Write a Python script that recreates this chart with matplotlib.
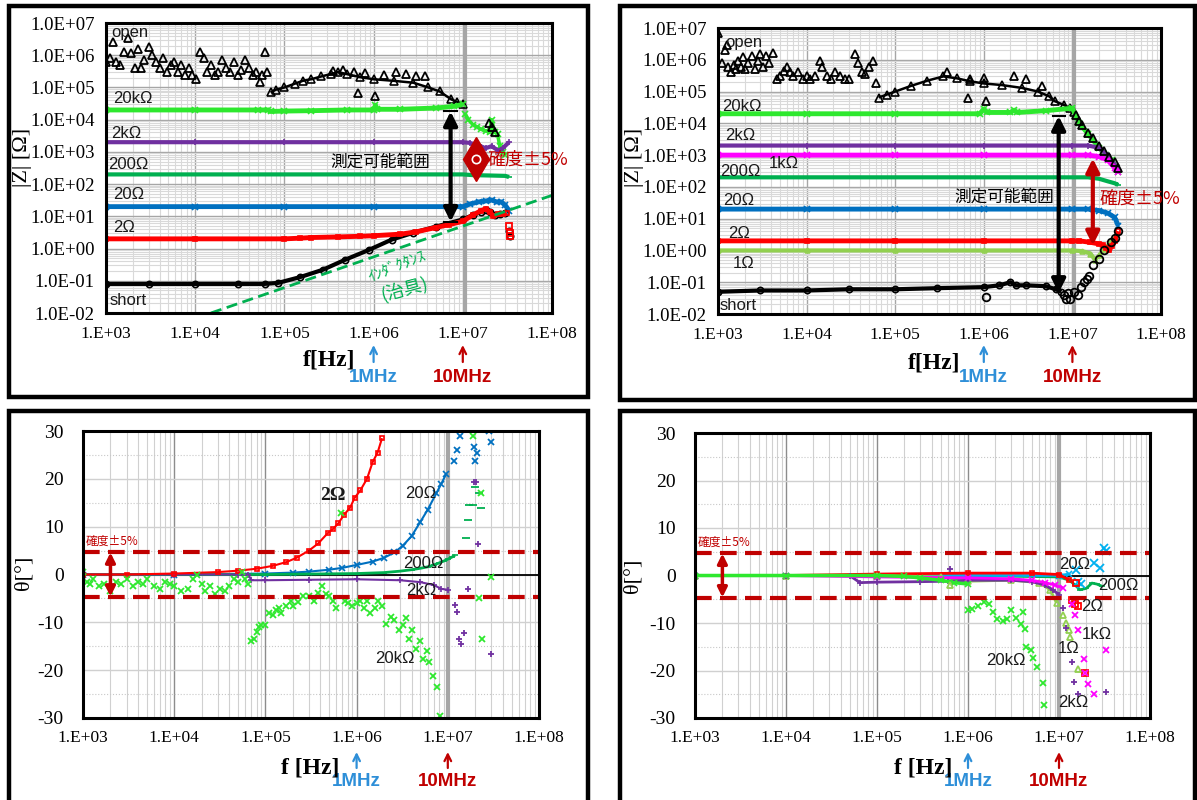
import numpy as np
import matplotlib.pyplot as plt
from matplotlib import transforms
from matplotlib.patches import Rectangle
from matplotlib.ticker import LogLocator, NullFormatter, MultipleLocator

plt.rcParams['font.family'] = ['Liberation Sans', 'DejaVu Sans']
plt.rcParams['axes.unicode_minus'] = False

# ---------------- data: |Z| fixture A (top left) ----------------
tl_open_pts_f = [1.0e3, 1.1e3, 1.2e3, 1.3e3, 1.45e3, 1.6e3, 1.75e3, 1.9e3, 2.1e3, 2.3e3, 2.5e3, 2.7e3,
                 3.0e3, 3.3e3, 3.6e3, 4.0e3, 4.4e3, 4.8e3, 5.3e3, 5.8e3, 6.4e3, 7.0e3, 7.7e3, 8.5e3,
                 9.3e3, 1.03e4, 1.13e4, 1.25e4, 1.37e4, 1.5e4, 1.65e4, 1.8e4, 2.0e4, 2.2e4, 2.45e4,
                 2.7e4, 3.0e4, 3.3e4, 3.6e4, 4.0e4, 4.4e4, 4.8e4, 5.3e4, 5.6e4, 6.0e4, 6.4e4,
                 3.5e5, 4.5e5, 6.0e5, 8.0e5, 1.3e6, 1.8e6, 2.3e6, 3.0e6, 3.8e6, 6.6e5, 1.05e6,
                 1.95e7, 2.1e7, 2.3e7]
tl_open_pts_z = [6e5, 8e5, 2.5e6, 6e5, 5e5, 1.3e6, 3.5e6, 1.2e6, 4e5, 1.6e6, 4e5, 7e5,
                 1.8e6, 1e6, 6e5, 4e5, 8e5, 3e5, 5e5, 6e5, 3e5, 5e5, 2.5e5, 4e5,
                 2.5e5, 1.8e5, 1.3e6, 8e5, 3e5, 5e5, 2.5e5, 3e5, 7e5, 4e5, 3e5,
                 6e5, 2.5e5, 3.5e5, 7e5, 4e5, 2.5e5, 3e5, 1.5e5, 2.5e5, 1.3e6, 3e5,
                 3.2e5, 3.5e5, 3e5, 2.8e5, 2.5e5, 3e5, 2.6e5, 2.2e5, 2.3e5, 6.6e4, 5.4e4,
                 8e3, 6e3, 4e3]
tl_open_f = [7e4, 8e4, 1e5, 1.3e5, 1.6e5, 2e5, 2.6e5, 3.3e5, 4e5, 5e5, 7e5, 1e6, 1.7e6, 2.8e6,
             4.1e6, 5.5e6, 7.4e6, 8.6e6, 1e7]
tl_open_z = [7e4, 8.5e4, 1e5, 1.3e5, 1.6e5, 1.8e5, 2.2e5, 2.6e5, 3e5, 2.6e5, 2.1e5, 1.8e5, 1.6e5, 1.4e5,
             1e5, 7.5e4, 4.3e4, 3.5e4, 3e4]
tl_20k_f = [1e3, 1e4, 5e4, 6.5e4, 7e4, 1e5, 2e5, 5e5, 1e6, 1.05e6, 1.1e6, 2e6, 5e6, 8e6, 1e7]
tl_20k_z = [2e4, 2e4, 2e4, 2e4, 1.8e4, 1.85e4, 1.9e4, 2e4, 2e4, 2.8e4, 2.1e4, 2.1e4, 2.3e4, 2.6e4, 3e4]
tl_20k_tail_f = [1.07e7, 1.15e7, 1.3e7, 1.45e7, 1.6e7, 1.8e7, 2e7, 2.1e7, 2.3e7, 2.45e7, 2.6e7, 2.8e7, 3e7]
tl_20k_tail_z = [1.5e4, 1e4, 7e3, 6e3, 5e3, 4.5e3, 4e3, 1e4, 4e3, 3.5e3, 1.5e3, 1e3, 8e2]
tl_2k_f = [1e3, 1e4, 1e5, 1e6, 1e7, 1.2e7, 1.5e7, 1.8e7, 2.1e7, 2.5e7, 2.8e7, 3.3e7]
tl_2k_z = [2e3, 2e3, 2e3, 2e3, 2e3, 1.9e3, 1.6e3, 1.3e3, 1.5e3, 1.1e3, 1.3e3, 2e3]
tl_200_f = [1e3, 1e4, 1e5, 1e6, 1e7, 1.3e7, 2e7, 3e7, 3.3e7]
tl_200_z = [200, 200, 200, 200, 200, 190, 185, 180, 165]
tl_20_f = [1e3, 1e4, 1e5, 1e6, 1e7, 1.2e7, 1.5e7, 1.8e7, 2.1e7, 2.4e7, 2.7e7, 3e7, 3.3e7]
tl_20_z = [20, 20, 20, 20, 20, 24, 28, 30, 32, 28, 28, 22, 15]
tl_2_f = [1e3, 1e4, 1e5, 1.5e5, 2e5, 4e5, 7e5, 1e6, 2e6, 3e6, 5e6, 7e6, 1e7, 1.3e7, 1.6e7, 1.8e7,
          2e7, 2.2e7, 2.5e7, 2.8e7, 3.1e7]
tl_2_z = [2, 2, 2, 2.1, 2.2, 2.3, 2.4, 2.5, 2.8, 3.3, 4.5, 5.5, 7, 11, 15, 17, 14, 10, 12, 12, 13]
tl_2_tail_f = [3.3e7, 3.35e7, 3.4e7]
tl_2_tail_z = [5, 3, 2.5]
tl_short_f = [1e3, 3e3, 1e4, 3e4, 6e4, 8.5e4, 1.5e5, 2.7e5, 4.8e5, 8.8e5, 1.6e6, 2.8e6, 5e6, 1e7,
              1.3e7, 1.6e7, 1.8e7, 2e7, 2.3e7, 2.6e7, 3e7]
tl_short_z = [0.08, 0.08, 0.08, 0.08, 0.08, 0.086, 0.13, 0.22, 0.45, 0.9, 1.9, 3.1, 4.8, 8,
              11, 14, 16, 14, 11, 12, 13]
tl_short_tail_f = [3.3e7, 3.4e7]
tl_short_tail_z = [3.5, 2.5]
tl_ind_f = [1.5e4, 1.05e8]
tl_ind_z = [1e-2, 47]

# ---------------- data: |Z| fixture B (top right) ----------------
tr_open_pts_f = [1.0e3, 1.1e3, 1.2e3, 1.25e3, 1.3e3, 1.4e3, 1.5e3, 1.6e3, 1.7e3, 1.8e3, 1.9e3, 2.0e3,
                 2.2e3, 2.4e3, 2.6e3, 2.8e3, 3.0e3, 3.2e3, 3.5e3, 3.8e3, 4.2e3, 4.6e3, 5.0e3, 5.5e3,
                 6.0e3, 6.5e3, 7.0e3, 8.0e3, 9.0e3, 1.0e4, 1.1e4, 1.25e4, 1.4e4, 1.5e4, 1.7e4, 1.9e4,
                 2.1e4, 2.4e4, 2.7e4, 3.0e4, 3.5e4, 3.8e4, 4.2e4, 4.6e4, 5.0e4, 5.6e4, 6.0e4,
                 3.8e5, 7.0e5, 1.0e6, 2.2e6, 3.0e6, 4.5e6, 6.6e5, 1.05e6,
                 1.1e7, 1.2e7, 1.3e7, 1.5e7, 1.7e7, 2.0e7, 2.3e7, 2.6e7, 3.0e7, 3.3e7]
tr_open_pts_z = [7e6, 8e5, 2e6, 3e6, 6e5, 4e5, 7e5, 5e5, 9e5, 6e5, 1.2e6, 5e5,
                 8e5, 1.3e6, 5e5, 9e5, 1.5e6, 6e5, 1.3e6, 8e5, 1.6e6, 2.5e5, 3e5, 4.5e5,
                 6e5, 4e5, 3e5, 4e5, 2.5e5, 3e5, 2.5e5, 3e5, 9e5, 6e5, 3e5, 2.5e5,
                 4e5, 3e5, 2.5e5, 2.5e5, 1.5e6, 8e5, 4e5, 3.5e5, 6e5, 9e5, 1.9e5,
                 4e5, 2.5e5, 2.7e5, 3e5, 2.5e5, 1.5e5, 6.3e4, 5e4,
                 1.8e4, 1.2e4, 9e3, 5e3, 3.5e3, 2e3, 1.3e3, 9e2, 6e2, 4e2]
tr_open_f = [6.5e4, 8e4, 1e5, 1.5e5, 2.3e5, 3.5e5, 5e5, 7e5, 1e6, 1.6e6, 2.7e6, 4.1e6, 5.5e6, 6.3e6,
             8e6, 9.4e6, 1.05e7]
tr_open_z = [6.5e4, 8e4, 1e5, 1.5e5, 2.2e5, 3e5, 2.6e5, 2.1e5, 1.8e5, 1.6e5, 1.3e5, 1e5, 7e4, 5e4,
             3.8e4, 3e4, 2.2e4]
tr_20k_f = [1e3, 1e4, 1e5, 9e5, 1e6, 1.1e6, 2e6, 2.2e6, 2.4e6, 5e6, 1e7, 1.2e7, 1.5e7, 2e7, 2.4e7,
            2.8e7, 3.3e7]
tr_20k_z = [2e4, 2e4, 2e4, 2e4, 2.8e4, 2.2e4, 2.2e4, 2.6e4, 2.2e4, 2.5e4, 3e4, 1e4, 4.7e3, 1.7e3, 1e3,
            6.8e2, 3e2]
tr_2k_f = [1e3, 1e4, 1e5, 1e6, 1e7, 1.5e7, 2e7, 2.5e7, 3e7, 3.3e7]
tr_2k_z = [2e3, 2e3, 2e3, 2e3, 2e3, 2e3, 1.7e3, 1e3, 5e2, 3.5e2]
tr_1k_f = [1e3, 1e4, 1e5, 1e6, 1e7, 1.5e7, 2e7, 2.5e7, 3e7, 3.3e7]
tr_1k_z = [1e3, 1e3, 1e3, 1e3, 1e3, 1e3, 9e2, 7e2, 4e2, 3e2]
tr_200_f = [1e3, 1e4, 1e5, 1e6, 1e7, 1.5e7, 2e7, 2.5e7, 3e7, 3.3e7]
tr_200_z = [200, 200, 200, 200, 200, 200, 180, 150, 130, 115]
tr_20_f = [1e3, 1e4, 1e5, 1e6, 1e7, 1.5e7, 2e7, 2.5e7, 3e7, 3.3e7]
tr_20_z = [20, 20, 20, 20, 20, 20, 18, 15, 11, 6]
tr_2_f = [1e3, 1e4, 1e5, 1e6, 1e7, 1.2e7, 1.6e7, 2e7, 2.2e7, 2.4e7, 2.6e7, 2.8e7, 3e7, 3.3e7]
tr_2_z = [2, 2, 2, 2, 2, 2, 1.8, 1.6, 1.5, 1.2, 1.0, 1.4, 2, 4]
tr_1_f = [1e3, 1e4, 1e5, 1e6, 1e7, 1.3e7, 1.6e7, 1.8e7, 2e7, 2.3e7, 2.6e7, 3e7]
tr_1_z = [1, 1, 1, 1, 1, 0.95, 0.8, 0.5, 0.7, 1.1, 1.6, 2.5]
tr_short_f = [1e3, 3e3, 1e4, 3e4, 1e5, 3e5, 1e6, 1.5e6, 2e6, 2.3e6, 3e6, 5e6, 6.5e6, 7.5e6]
tr_short_z = [0.05, 0.055, 0.055, 0.06, 0.06, 0.065, 0.07, 0.08, 0.1, 0.08, 0.08, 0.075, 0.06, 0.05]
tr_short_tail_f = [8e6, 8.5e6, 9e6, 9.5e6, 1.05e7, 1.15e7, 1.25e7, 1.35e7, 1.45e7, 1.55e7, 1.7e7,
                   2e7, 2.3e7, 2.7e7, 3e7, 3.3e7, 1.05e6]
tr_short_tail_z = [0.04, 0.03, 0.045, 0.03, 0.05, 0.04, 0.07, 0.1, 0.13, 0.16, 0.35,
                   0.55, 1.0, 1.8, 2.5, 4.0, 0.035]

# ---------------- data: phase fixture A (bottom left) ----------------
bl_2_f = [1e3, 3e3, 1e4, 3e4, 5e4, 8e4, 1.2e5, 1.7e5, 2.2e5, 3e5, 3.8e5, 4.8e5, 5.5e5, 6.3e5, 7.3e5,
          8.5e5, 9.5e5, 1.1e6, 1.3e6, 1.5e6, 1.7e6, 1.9e6]
bl_2_deg = [0, 0, 0.2, 0.5, 0.8, 1.2, 1.8, 2.6, 3.5, 5, 6.5, 8.6, 9.5, 10.7, 12.5, 14, 16, 17.6, 20,
            23.5, 25.5, 28.5]
bl_20_f = [1e3, 1e4, 1e5, 2e5, 3e5, 5e5, 7e5, 1e6, 1.5e6, 2e6, 2.6e6, 3.2e6, 4e6, 5e6, 6e6, 7.5e6,
           8.5e6, 9.6e6]
bl_20_deg = [0, 0, 0.2, 0.4, 0.6, 1, 1.4, 2, 2.7, 3.5, 4.6, 6, 8, 11, 13.5, 17, 19, 21]
bl_20_tail_f = [1.17e7, 1.27e7, 1.37e7, 1.95e7, 2.0e7, 2.1e7, 2.8e7, 2.95e7]
bl_20_tail_deg = [23.7, 26, 29, 26.7, 23.7, 25.5, 29.9, 27.8]
bl_200_f = [1e3, 1e4, 1e5, 1e6, 2e6, 3e6, 4e6, 5e6, 6e6, 7e6, 8e6, 9e6, 1e7, 1.1e7, 1.2e7]
bl_200_deg = [0, 0, 0, 0.2, 0.4, 0.7, 1, 1.3, 1.6, 2, 2.4, 2.8, 3.2, 3.6, 4]
bl_200_tail_f = [1.6e7, 1.65e7, 1.7e7, 1.9e7, 2.0e7, 2.2e7, 2.3e7]
bl_200_tail_deg = [7.6, 11.3, 14.5, 14.6, 18.3, 17, 14]
bl_2k_f = [1e3, 1e4, 5e4, 6.5e4, 7e4, 1e5, 3e5, 1e6, 3e6, 5e6, 7e6, 8.5e6, 1e7]
bl_2k_deg = [0, 0, 0, 0, -1.2, -1.2, -1.1, -1.0, -1.2, -1.6, -2.2, -3, -3.2]
bl_2k_tail_f = [1.2e7, 1.27e7, 1.33e7, 1.4e7, 1.5e7, 1.65e7, 1.95e7, 2.05e7, 2.15e7, 3.0e7]
bl_2k_tail_deg = [-6.4, -7.8, -13.4, -14.5, -12.3, -3, 19.4, 19.4, 6.3, -16.7]
bl_20k_f = [1.0e3, 1.1e3, 1.2e3, 1.3e3, 1.5e3, 1.7e3, 2.0e3, 2.3e3, 2.6e3, 3.0e3, 3.5e3, 4.0e3,
            4.5e3, 5.0e3, 6.0e3, 7.0e3, 8.0e3, 9.0e3, 1.0e4, 1.2e4, 1.4e4, 1.6e4, 1.8e4, 2.0e4,
            2.2e4, 2.5e4, 2.8e4, 3.2e4, 3.6e4, 4.0e4, 4.5e4, 5.0e4, 5.5e4, 6.0e4, 6.5e4, 7.0e4,
            7.5e4, 8.0e4, 8.5e4, 9.0e4, 1.0e5, 1.1e5, 1.2e5, 1.3e5, 1.4e5, 1.5e5, 1.7e5, 1.9e5,
            2.0e5, 2.3e5, 2.6e5, 3.0e5, 3.4e5, 3.8e5, 4.2e5, 4.6e5, 5.0e5, 5.5e5, 6.0e5, 6.7e5,
            7.5e5, 8.0e5, 9.0e5, 1.0e6, 1.1e6, 1.2e6, 1.3e6, 1.4e6, 1.6e6, 1.7e6, 1.9e6, 2.1e6,
            2.4e6, 2.6e6, 2.9e6, 3.2e6, 3.5e6, 3.8e6, 4.1e6, 4.5e6, 5.0e6, 5.3e6, 5.9e6, 6.3e6,
            6.9e6, 7.6e6, 8.2e6, 1.9e7, 2.2e7, 2.3e7, 2.4e7, 3.0e7]
bl_20k_deg = [0.5, -1.5, -2, -1, -2.5, -2, -3.5, -1.5, -2, -1, -2.5, -1.5,
              -2, -1, -2.5, -3, -1.5, -2, -2.5, -3.5, -3, -1, 0, -2,
              -3.5, -2.5, -4, -3, -3.5, -2.5, -1, -1.5, 0.5, -1, -2, -14,
              -13.5, -12, -11, -10.5, -10.5, -8, -8.5, -7.5, -7, -8, -6.5, -5.5,
              -6.5, -5.8, -4.5, -4.4, -5.5, -3.8, -2.3, -4, -4.5, -5.5, -7.1, 12.9,
              -5.5, -6, -6.6, -6, -5.5, -7, -5.5, -8, -7, -5.5, -6.5, -10.3,
              -8.9, -9.5, -11.7, -10.5, -9, -13.4, -11.5, -15.5, -14, -17.6, -16, -18.3,
              -21.2, -23.6, -29.5, 29, -5, 17, -13.5, -0.5]

# ---------------- data: phase fixture B (bottom right) ----------------
br_2k_f = [1e3, 1e4, 5e4, 6.5e4, 1e5, 3e5, 6e5, 1e6, 3e6, 5e6, 7e6, 8.5e6, 1e7]
br_2k_deg = [0, 0, 0, -1.5, -1.4, -1.3, -1.2, -1.0, -1.0, -1.3, -2, -3, -4]
br_2k_tail_f = [6.3e5, 1.1e7, 1.2e7, 1.4e7, 1.45e7, 1.6e7, 3.3e7]
br_2k_tail_deg = [1.4, -6.8, -11, -18.2, -22.4, -24.9, -24.5]
br_1k_f = [1e3, 1e4, 1e5, 1e6, 3e6, 5e6, 7e6, 9e6, 1.1e7]
br_1k_deg = [0, 0, -0.3, -0.5, -0.7, -1, -1.5, -2, -2.6]
br_1k_tail_f = [1.38e7, 1.5e7, 1.6e7, 1.87e7, 1.95e7, 2.1e7, 2.4e7, 3.3e7]
br_1k_tail_deg = [-5.9, -8.4, -11.5, -17.5, -20.6, -22.8, -25, -15.6]
br_1_f = [1e3, 1e4, 1e5, 5e5, 1e6, 3e6, 6e6, 8e6, 9.4e6]
br_1_deg = [0, 0, 0, -0.3, -1.2, -1, -1.5, -3, -5.8]
br_1_tail_f = [6.3e5, 1.1e7, 1.2e7, 1.3e7, 1.32e7, 1.6e7]
br_1_tail_deg = [-2, -8.3, -10, -11.4, -13, -19.7]
br_2_f = [1e3, 1e4, 1e5, 1e6, 5e6, 1e7, 1.3e7]
br_2_deg = [0, 0, 0.3, 0.5, 0.5, 0.2, -1]
br_2_tail_f = [1.38e7, 1.5e7, 1.55e7, 1.6e7, 1.95e7]
br_2_tail_deg = [-5.2, -5.9, -1.6, -6.5, -20.5]
br_20_f = [1e3, 1e4, 1e5, 1e6, 1e7, 1.3e7]
br_20_deg = [0, 0, 0, 0, 0, 0.3]
br_20_tail_f = [1.55e7, 1.6e7, 1.75e7, 2.4e7, 2.8e7, 3.1e7, 3.3e7]
br_20_tail_deg = [1.2, -1.4, -1.8, 2.6, 1.6, 5.8, 5.2]
br_200_f = [1e3, 1e4, 1e5, 1e6, 1e7, 1.3e7, 1.5e7, 1.7e7, 2e7, 2.3e7, 2.6e7, 3e7]
br_200_deg = [0, 0, 0, 0, -0.3, -1, -2, -3, -2.7, -1.6, -1.8, -2.3]
br_20k_f = [1e3, 1e4, 1e5, 2e5, 3e5, 5e5, 7e5, 1e6]
br_20k_deg = [0, 0, 0, -0.2, -0.5, -1, -1.5, -1.8]
br_20k_tail_f = [1e6, 1.1e6, 1.3e6, 1.5e6, 1.7e6, 1.9e6, 2.1e6, 2.4e6, 2.7e6, 3e6, 3.4e6, 3.8e6,
                 4e6, 4.2e6, 4.3e6, 4.9e6, 5.2e6, 5.7e6, 6.6e6, 6.9e6]
br_20k_tail_deg = [-7.3, -7, -6.5, -5.5, -6, -7.7, -9.1, -9.5, -9.2, -7.2, -9, -10.2,
                   -7.6, -11.2, -15, -15.6, -17.4, -19.2, -22.6, -27.2]

x_ticks = [1e3, 1e4, 1e5, 1e6, 1e7, 1e8]
x_labels = ['1.E+03', '1.E+04', '1.E+05', '1.E+06', '1.E+07', '1.E+08']
z_ticks = [1e-2, 1e-1, 1e0, 1e1, 1e2, 1e3, 1e4, 1e5, 1e6, 1e7]
z_labels = ['1.0E-02', '1.0E-01', '1.0E+00', '1.0E+01', '1.0E+02', '1.0E+03',
            '1.0E+04', '1.0E+05', '1.0E+06', '1.0E+07']
deg_ticks = [-30, -20, -10, 0, 10, 20, 30]

C_OPEN = 'black'
C_20K = '#2EE82E'
C_2K = '#7030A0'
C_200 = '#00B050'
C_20 = '#0070C0'
C_2 = '#FF0000'
C_1K = '#FF00FF'
C_1 = '#92D050'
C_20B = '#00B0F0'
C_LIM = '#C00000'
C_BLUE = '#2E8FD8'

SERIF = 'Liberation Serif'
JP = ['Noto Sans CJK JP', 'DejaVu Sans']

W, H = 1197, 800
fig = plt.figure(figsize=(W / 100, H / 100), dpi=100)


def px_axes(l, t, r, b):
    return fig.add_axes([l / W, 1 - b / H, (r - l) / W, (b - t) / H])


def frame(x0, y0, x1, y1):
    fig.add_artist(Rectangle((x0 / W, 1 - y1 / H), (x1 - x0) / W, (y1 - y0) / H,
                             transform=fig.transFigure, fill=False, ec='black', lw=3.2))


def common(ax, vline):
    ax.set_xscale('log')
    ax.set_xlim(1e3, 1e8)
    ax.set_xticks(x_ticks)
    ax.set_xticklabels(x_labels)
    ax.xaxis.set_minor_locator(LogLocator(base=10, subs=np.arange(2, 10), numticks=20))
    ax.xaxis.set_minor_formatter(NullFormatter())
    ax.tick_params(which='both', length=0, labelsize=12.5, labelfontfamily=SERIF)
    ax.tick_params(axis='x', pad=9)
    for s in ax.spines.values():
        s.set_linewidth(2.2)
        s.set_color('black')
        s.set_zorder(6)
    ax.set_axisbelow(True)
    ax.axvline(vline, color='#A6A6A6', lw=3, zorder=1.5)


def setup_z(ax):
    common(ax, 1.05e7)
    ax.set_yscale('log')
    ax.set_ylim(1e-2, 1e7)
    ax.set_yticks(z_ticks)
    ax.set_yticklabels(z_labels)
    ax.yaxis.set_minor_locator(LogLocator(base=10, subs=np.arange(2, 10), numticks=20))
    ax.yaxis.set_minor_formatter(NullFormatter())
    ax.tick_params(axis='y', pad=8, labelsize=13.5)
    ax.grid(which='major', color='#A6A6A6', lw=1.0)
    ax.grid(which='minor', color='#D9D9D9', lw=0.8)


def setup_deg(ax):
    common(ax, 1e7)
    ax.set_ylim(-30, 30)
    ax.set_yticks(deg_ticks)
    ax.yaxis.set_minor_locator(MultipleLocator(5))
    ax.tick_params(axis='y', pad=14, labelsize=14)
    ax.grid(which='major', axis='x', color='#8C8C8C', lw=1.0)
    ax.grid(which='minor', axis='x', color='#D0D0D0', lw=0.8)
    ax.grid(which='major', axis='y', color='#D0D0D0', lw=1.0)
    ax.grid(which='minor', axis='y', color='#C8C8C8', lw=0.8, ls=':')
    ax.axhline(0, color='black', lw=1.3, zorder=1.8)
    for v in (4.7, -4.7):
        ax.axhline(v, color=C_LIM, lw=3, ls=(0, (4, 2)), zorder=5)
    ax.annotate('', xy=(2e3, -4.6), xytext=(2e3, 4.6),
                arrowprops=dict(arrowstyle='<|-|>', color=C_LIM, lw=2.5, mutation_scale=14,
                                shrinkA=0, shrinkB=0), zorder=6)
    ax.text(1.08e3, 7.0, '確度±5%', color=C_LIM, fontsize=8.5, family=JP, va='center')


def band(ax, f, v, color, marker, lw=3.5, ms=4, mfc=None, z=3):
    ax.plot(f, v, color=color, lw=lw, marker=marker, ms=ms, mew=1.2,
            mfc=color if mfc is None else mfc, mec=color, zorder=z, solid_capstyle='butt')


def pts(ax, f, v, color, marker, ms=4.5, mfc=None, z=3.5):
    ax.plot(f, v, ls='none', marker=marker, ms=ms, mew=1.3,
            mfc=color if mfc is None else mfc, mec=color, zorder=z)


def label(ax, x, y, s, size=12, **kw):
    ax.text(x, y, s, fontsize=size, color='#1A1A1A', va='center', zorder=7, **kw)


def mhz(ax, y_top, y_bot, y_txt):
    tr = transforms.blended_transform_factory(ax.transData, fig.transFigure)
    for f, txt, col in [(1e6, '1MHz', C_BLUE), (1e7, '10MHz', C_LIM)]:
        ax.annotate('', xy=(f, 1 - y_top / H), xytext=(f, 1 - y_bot / H), xycoords=tr, textcoords=tr,
                    arrowprops=dict(arrowstyle='->', color=col, lw=1.6, mutation_scale=12,
                                    shrinkA=0, shrinkB=0), annotation_clip=False)
        ax.text(f, 1 - y_txt / H, txt, transform=tr, ha='center', va='center', color=col,
                fontsize=13.5, fontweight='bold')


def axis_texts(xl, yl, xlabel_pos, ylabel_pos):
    fig.text(xlabel_pos[0] / W, 1 - xlabel_pos[1] / H, xl, family=SERIF, fontsize=17,
             fontweight='bold', ha='center', va='center')
    fig.text(ylabel_pos[0] / W, 1 - ylabel_pos[1] / H, yl, family=SERIF, fontsize=16,
             rotation=90, ha='center', va='center')


# ================= top left =================
ax = px_axes(106, 23, 552, 313)
setup_z(ax)
pts(ax, tl_open_pts_f, tl_open_pts_z, C_OPEN, '^', ms=5.5, mfc='none')
band(ax, tl_open_f, tl_open_z, C_OPEN, '^', lw=1.8, ms=6, mfc='none')
band(ax, tl_20k_f, tl_20k_z, C_20K, 'x')
band(ax, tl_20k_tail_f, tl_20k_tail_z, C_20K, 'x', lw=2.5)
band(ax, tl_2k_f, tl_2k_z, C_2K, '+', lw=3)
band(ax, tl_200_f, tl_200_z, C_200, '_', lw=3)
band(ax, tl_20_f, tl_20_z, C_20, 'x')
band(ax, tl_short_f, tl_short_z, C_OPEN, 'o', lw=3, ms=4.5, mfc='none')
pts(ax, tl_short_tail_f, tl_short_tail_z, C_OPEN, 'o', mfc='none')
band(ax, tl_2_f, tl_2_z, C_2, 's', lw=3.5, ms=3.5, mfc='none', z=3.2)
pts(ax, tl_2_tail_f, tl_2_tail_z, C_2, 's', ms=4, mfc='none')
ax.plot(tl_ind_f, tl_ind_z, color=C_200, lw=2, ls=(0, (4, 2)), zorder=4)
label(ax, 1.15e3, 5e6, 'open')
label(ax, 1.2e3, 4.6e4, '20kΩ')
label(ax, 1.15e3, 3.8e3, '2kΩ')
label(ax, 1.05e3, 4e2, '200Ω')
label(ax, 1.2e3, 48, '20Ω')
label(ax, 1.2e3, 4.5, '2Ω')
label(ax, 1.1e3, 0.025, 'short')
ax.text(1.2e6, 470, '測定可能範囲', family=JP, fontsize=12, ha='center', va='center', zorder=7)
ax.annotate('', xy=(7.3e6, 6.8), xytext=(7.3e6, 1.8e4),
            arrowprops=dict(arrowstyle='<|-|>', color='black', lw=3, mutation_scale=20,
                            shrinkA=0, shrinkB=0), zorder=7)
ax.plot([6.2e6, 8.6e6], [1.8e4, 1.8e4], color='black', lw=1.5, zorder=7)
ax.plot([6.2e6, 8.6e6], [6.8, 6.8], color='black', lw=1.5, zorder=7)
ax.plot([1.4e7], [590], marker='d', ms=22, color=C_LIM, mec=C_LIM, zorder=7)
ax.plot([1.4e7], [590], marker='o', ms=6, mfc='none', mec='white', mew=1.2, zorder=8)
ax.text(1.9e7, 560, '確度±5%', color=C_LIM, fontsize=13, family=JP, va='center', zorder=7)
ax.text(1.8e6, 0.3, 'ｲﾝﾀﾞｸﾀﾝｽ', color=C_200, fontsize=11, family=JP, rotation=22,
        ha='center', va='center', zorder=7)
ax.text(2.2e6, 0.055, '(治具)', color=C_200, fontsize=13, family=JP, rotation=15,
        ha='center', va='center', zorder=7)
mhz(ax, 345, 362, 378)
axis_texts('f[Hz]', '|Z| [Ω]', (329, 360), (23, 157))

# ================= top right =================
ax = px_axes(718, 28, 1161, 314)
setup_z(ax)
pts(ax, tr_open_pts_f, tr_open_pts_z, C_OPEN, '^', ms=5.5, mfc='none')
band(ax, tr_open_f, tr_open_z, C_OPEN, '^', lw=1.8, ms=6, mfc='none')
band(ax, tr_20k_f, tr_20k_z, C_20K, 'x')
band(ax, tr_2k_f, tr_2k_z, C_2K, '+', lw=3)
band(ax, tr_1k_f, tr_1k_z, C_1K, 'x')
band(ax, tr_200_f, tr_200_z, C_200, '_', lw=3)
band(ax, tr_20_f, tr_20_z, C_20, 'x')
band(ax, tr_1_f, tr_1_z, C_1, '^', lw=3, ms=3.5, mfc='none')
band(ax, tr_2_f, tr_2_z, C_2, 's', lw=3.5, ms=3.5, mfc='none')
band(ax, tr_short_f, tr_short_z, C_OPEN, 'o', lw=3, ms=4.5, mfc='none')
pts(ax, tr_short_tail_f, tr_short_tail_z, C_OPEN, 'o', ms=5.5, mfc='none')
label(ax, 1.2e3, 3.4e6, 'open')
label(ax, 1.1e3, 3.5e4, '20kΩ')
label(ax, 1.2e3, 4e3, '2kΩ')
label(ax, 3.7e3, 540, '1kΩ')
label(ax, 1.05e3, 300, '200Ω')
label(ax, 1.15e3, 37, '20Ω')
label(ax, 1.3e3, 3.5, '2Ω')
label(ax, 1.45e3, 0.4, '1Ω')
label(ax, 1.05e3, 0.019, 'short')
ax.text(1.7e6, 47, '測定可能範囲', family=JP, fontsize=12, ha='center', va='center', zorder=7)
ax.annotate('', xy=(7e6, 0.046), xytext=(7e6, 1.7e4),
            arrowprops=dict(arrowstyle='<|-|>', color='black', lw=3, mutation_scale=20,
                            shrinkA=0, shrinkB=0), zorder=7)
ax.plot([6e6, 8.2e6], [1.7e4, 1.7e4], color='black', lw=1.5, zorder=7)
ax.annotate('', xy=(1.7e7, 1.45), xytext=(1.7e7, 780),
            arrowprops=dict(arrowstyle='<|-|>', color=C_LIM, lw=3, mutation_scale=20,
                            shrinkA=0, shrinkB=0), zorder=7)
ax.text(2.0e7, 44, '確度±5%', color=C_LIM, fontsize=13, family=JP, va='center', zorder=7)
mhz(ax, 345, 362, 378)
axis_texts('f[Hz]', '|Z| [Ω]', (934, 363), (634, 157))

# ================= bottom left =================
ax = px_axes(83, 431, 539, 718)
setup_deg(ax)
band(ax, bl_20_f, bl_20_deg, C_20, 'x', lw=1.5, ms=4)
pts(ax, bl_20_tail_f, bl_20_tail_deg, C_20, 'x')
band(ax, bl_200_f, bl_200_deg, C_200, '_', lw=2, ms=5)
pts(ax, bl_200_tail_f, bl_200_tail_deg, C_200, '_', ms=6)
band(ax, bl_2k_f, bl_2k_deg, C_2K, '+', lw=1.5, ms=4)
pts(ax, bl_2k_tail_f, bl_2k_tail_deg, C_2K, '+')
band(ax, bl_2_f, bl_2_deg, C_2, 's', lw=1.5, ms=3.5, mfc='none')
pts(ax, bl_20k_f, bl_20k_deg, C_20K, 'x', ms=4.5)
label(ax, 5.5e5, 16.6, '2Ω', size=14, ha='center', family=SERIF, fontweight='bold')
label(ax, 5.1e6, 17, '20Ω', ha='center')
label(ax, 5.4e6, 2.3, '200Ω', ha='center')
label(ax, 5.1e6, -3.3, '2kΩ', ha='center')
label(ax, 2.6e6, -17.6, '20kΩ', ha='center')
mhz(ax, 752, 768, 782)
axis_texts('f [Hz]', 'θ[°]', (310, 768), (24, 573))

# ================= bottom right =================
ax = px_axes(695, 433, 1150, 718)
setup_deg(ax)
band(ax, br_200_f, br_200_deg, C_200, '_', lw=2, ms=5)
band(ax, br_20_f, br_20_deg, C_20B, 'x', lw=2, ms=4)
pts(ax, br_20_tail_f, br_20_tail_deg, C_20B, 'x', ms=6)
band(ax, br_2_f, br_2_deg, C_2, 's', lw=2, ms=3.5, mfc='none')
pts(ax, br_2_tail_f, br_2_tail_deg, C_2, 's', mfc='none')
band(ax, br_1_f, br_1_deg, C_1, '^', lw=2, ms=4, mfc='none')
pts(ax, br_1_tail_f, br_1_tail_deg, C_1, '^', mfc='none')
band(ax, br_2k_f, br_2k_deg, C_2K, '+', lw=2, ms=4)
pts(ax, br_2k_tail_f, br_2k_tail_deg, C_2K, '+')
band(ax, br_1k_f, br_1k_deg, C_1K, 'x', lw=2, ms=4)
pts(ax, br_1k_tail_f, br_1k_tail_deg, C_1K, 'x', ms=5)
band(ax, br_20k_f, br_20k_deg, C_20K, 'x', lw=2.5, ms=4)
pts(ax, br_20k_tail_f, br_20k_tail_deg, C_20K, 'x', ms=4.5)
label(ax, 1.5e7, 2.4, '20Ω', ha='center')
label(ax, 4.5e7, -2.2, '200Ω', ha='center')
label(ax, 2.3e7, -6.6, '2Ω', ha='center')
label(ax, 2.6e7, -12.5, '1kΩ', ha='center')
label(ax, 1.26e7, -15.3, '1Ω', ha='center')
label(ax, 2.6e6, -17.8, '20kΩ', ha='center')
label(ax, 1.45e7, -26.8, '2kΩ', ha='center')
mhz(ax, 752, 768, 782)
axis_texts('f [Hz]', 'θ[°]', (923, 768), (633, 576))

# panel frames
frame(9, 6, 588, 397)
frame(620, 6, 1195, 400)
frame(9, 411, 588, 806)
frame(620, 411, 1195, 806)

fig.savefig('out.png', dpi=100, facecolor='white')
